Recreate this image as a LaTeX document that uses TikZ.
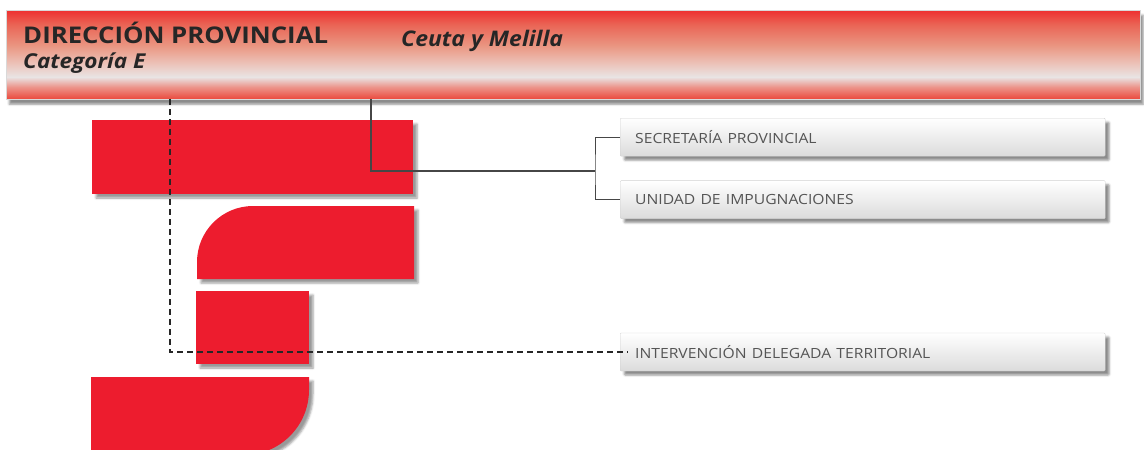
\documentclass[tikz,border=0pt]{standalone}
\usepackage{fontspec}
\usepackage{graphicx}
\setmainfont{Open Sans}
\usetikzlibrary{positioning,shadows.blur}

\definecolor{logored}{RGB}{237,28,46}
\definecolor{hdrA}{RGB}{238,48,48}
\definecolor{hdrAB}{RGB}{234,100,85}
\definecolor{hdrB}{RGB}{234,150,130}
\definecolor{hdrC}{RGB}{236,195,185}
\definecolor{hdrD}{RGB}{233,228,228}
\definecolor{hdrE}{RGB}{236,150,140}
\definecolor{hdrF}{RGB}{235,72,60}
\definecolor{linkgray}{RGB}{70,70,70}
\definecolor{textgray}{RGB}{85,85,85}
\pgfdeclareverticalshading{hdrshade}{100bp}{color(0bp)=(hdrF); color(25bp)=(hdrF);
  color(32bp)=(hdrE); color(37.5bp)=(hdrD); color(45bp)=(hdrC); color(55bp)=(hdrB);
  color(67bp)=(hdrAB); color(75bp)=(hdrA); color(100bp)=(hdrA)}
\newcommand{\wide}[2]{\scalebox{#1}[1]{#2}}

\begin{document}
\begin{tikzpicture}[x=1pt, y=-1pt,
    hdrbar/.style={shading=hdrshade, draw=black!15, inner sep=0pt,
      blur shadow={shadow xshift=3pt, shadow yshift=-5pt, shadow opacity=45}},
    hdrtext/.style={anchor=base west, text=black!85, inner sep=0pt},
    redblock/.style={logored,
      blur shadow={shadow xshift=4pt, shadow yshift=-4pt, shadow opacity=40}},
    unitbox/.style={top color=white, bottom color=black!14, draw=black!18,
      rounded corners=1pt, minimum height=38pt, text width=455pt, align=left,
      inner xsep=15pt, inner ysep=0pt, text=textgray, font=\fontsize{14}{16}\selectfont,
      blur shadow={shadow xshift=4pt, shadow yshift=-4pt, shadow opacity=45}},
    link/.style={draw=linkgray, line width=1.2pt},
    dline/.style={draw=black!85, line width=1.2pt, dash pattern=on 6pt off 4pt}]
    \useasboundingbox (0,0) rectangle (1144,450);

    % Header bar
    \node[hdrbar, minimum width=1134pt, minimum height=89pt, anchor=north west] (dir) at (6,10) {};
    \node[hdrtext, font=\bfseries\fontsize{23}{25}\selectfont]
      (dirname) at (23,43) {\wide{1.12}{DIRECCIÓN PROVINCIAL}};
    \node[hdrtext, font=\bfseries\itshape\fontsize{20.5}{22}\selectfont]
      (dircat) at (23,68) {\wide{1.1}{Categoría E}};
    \node[hdrtext, font=\bfseries\itshape\fontsize{21.5}{23}\selectfont]
      (dirplace) at (401,46) {\wide{1.07}{Ceuta y Melilla}};

    % Logo blocks
    \fill[redblock] (92,120) rectangle (413,194);
    \fill[redblock] (197,279) -- (197,262) arc (180:270:56) -- (414,206) -- (414,279) -- cycle;
    \fill[redblock] (196,291) rectangle (309,364);
    \fill[redblock] (91,377) -- (309,377) -- (309,390) arc (0:90:65) -- (91,455) -- cycle;

    % Units
    \node[unitbox, anchor=north west] (sec) at (620,118) {\wide{1.12}{SECRETARÍA PROVINCIAL}};
    \node[unitbox, below=24pt of sec] (uni) {\wide{1.12}{UNIDAD DE IMPUGNACIONES}};
    \node[unitbox, below=114pt of uni] (int) {\wide{1.12}{INTERVENCIÓN DELEGADA TERRITORIAL}};

    % Connectors
    \coordinate (drop) at (371,0);
    \coordinate (fork) at (595,171);
    \coordinate (vdash) at (170,0);
    \draw[link] (dir.south -| drop) |- (fork);
    \draw[link, line width=0.8pt] (sec.west) -| (fork) |- (uni.west);
    \draw[dline] (dir.south -| vdash) |- ([xshift=8pt]int.west);
\end{tikzpicture}
\end{document}
